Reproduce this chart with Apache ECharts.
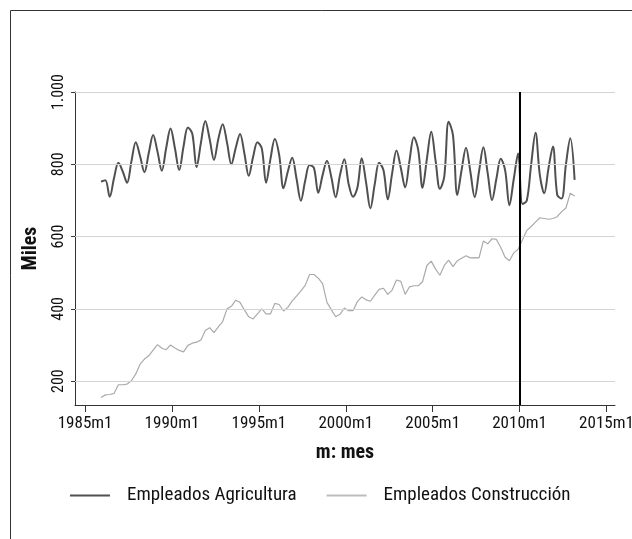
<!DOCTYPE html>
<html>
<head>
<meta charset="utf-8">
<script src="https://cdn.jsdelivr.net/npm/echarts@6/dist/echarts.min.js"></script>
<style>
html,body{margin:0;padding:0;background:#fff;}
#chart{width:632px;height:539px;}
</style>
</head>
<body>
<div id="chart"></div>
<script>
// Quarterly observations, first period 1985m12, step 3 months
const startYear = 1985;
const startMonth = 12;
const stepMonths = 3;

const agricultura = [
  752, 756, 710, 762, 804, 780, 749, 808, 861, 822,
  778, 832, 881, 835, 782, 845, 899, 845, 784, 850,
  902, 885, 792, 860, 920, 870, 812, 870, 911, 860,
  800, 845, 884, 830, 768, 820, 861, 844, 749, 815,
  870, 826, 734, 780, 818, 760, 699, 755, 798, 790,
  721, 770, 810, 765, 709, 770, 814, 745, 710, 735,
  817, 750, 678, 745, 804, 784, 703, 775, 838, 790,
  736, 810, 875, 840, 735, 815, 890, 810, 732, 766,
  918, 881, 715, 785, 846, 780, 709, 780, 847, 775,
  701, 760, 815, 784, 687, 760, 830, 690, 700, 800,
  887, 770, 720, 790, 849, 715, 705, 800, 872, 757
];

const construccion = [
  155, 162, 163, 166, 190, 190, 192, 201, 220, 247,
  261, 270, 286, 301, 291, 287, 300, 292, 285, 281,
  299, 305, 308, 314, 340, 348, 334, 350, 365, 400,
  407, 424, 418, 397, 378, 372, 386, 400, 386, 386,
  415, 412, 394, 404, 422, 435, 450, 465, 495, 495,
  485, 470, 418, 398, 378, 385, 402, 395, 395, 420,
  433, 425, 421, 438, 454, 457, 440, 452, 480, 476,
  440, 461, 464, 464, 475, 520, 532, 510, 493, 520,
  535, 517, 533, 540, 547, 541, 542, 541, 588, 580,
  594, 592, 570, 543, 533, 555, 565, 591, 617, 628,
  640, 652, 650, 648, 650, 655, 669, 679, 720, 712
];

const xTicks = [1985, 1990, 1995, 2000, 2005, 2010, 2015];
const yTicks = [200, 400, 600, 800, 1000];
const yTickLabels = ['200', '400', '600', '800', '1.000'];
const markerYear = 2010;

// period labels and decimal time
const periods = [];
const times = [];
for (let i = 0; i < agricultura.length; i++) {
  const mIdx = startYear * 12 + (startMonth - 1) + i * stepMonths;
  const y = Math.floor(mIdx / 12), m = mIdx % 12 + 1;
  periods.push(y + 'm' + m);
  times.push(y + (m - 1) / 12);
}

const FONT = "'Liberation Sans Narrow', 'Arial Narrow', 'Roboto Condensed', 'DejaVu Sans Condensed', Roboto, sans-serif";

const chart = echarts.init(document.getElementById('chart'), null, {renderer: 'canvas'});
chart.setOption({
  animation: false,
  backgroundColor: '#fff',
  textStyle: {fontFamily: FONT},
  graphic: [{
    type: 'rect', left: 8, top: 8, silent: true,
    shape: {width: 800, height: 800},
    style: {fill: 'none', stroke: '#333', lineWidth: 1}
  }],
  grid: {left: 75, right: 17, top: 92, bottom: 134, containLabel: false, outerBoundsMode: 'none'},
  legend: {
    left: 70, top: 486, padding: 0,
    itemWidth: 40, itemHeight: 2, itemGap: 30,
    textStyle: {fontFamily: FONT, fontSize: 19, color: '#111', padding: [0, 0, 0, 12]},
    data: [
      {name: 'Empleados Agricultura', icon: 'rect'},
      {name: 'Empleados Construcción', icon: 'rect'}
    ]
  },
  xAxis: {
    type: 'value', min: 1984.42, max: 2015.49,
    name: 'm: mes', nameLocation: 'middle', nameGap: 38,
    nameTextStyle: {fontFamily: FONT, fontSize: 20, fontWeight: 'bold', color: '#111'},
    axisLine: {show: true, lineStyle: {color: '#333', width: 1}},
    axisTick: {show: true, length: 7, lineStyle: {color: '#333'}, customValues: xTicks},
    axisLabel: {customValues: xTicks, formatter: v => v + 'm1', fontSize: 17, color: '#111', margin: 10, fontFamily: FONT},
    splitLine: {show: false}
  },
  yAxis: {
    type: 'value', min: 134, max: 1000,
    name: 'Miles', nameLocation: 'middle', nameGap: 34,
    nameTextStyle: {fontFamily: FONT, fontSize: 20, fontWeight: 'bold', color: '#111'},
    axisLine: {show: true, lineStyle: {color: '#333', width: 1}},
    axisTick: {show: true, length: 4, lineStyle: {color: '#333'}, customValues: yTicks},
    axisLabel: {customValues: yTicks, rotate: 90, fontSize: 16, color: '#111', margin: 8, fontFamily: FONT,
      formatter: v => yTickLabels[yTicks.indexOf(v)] || String(v)},
    splitLine: {show: false}
  },
  series: [
    {
      name: 'grid', type: 'line', data: [], z: 1, silent: true,
      markLine: {
        silent: true, symbol: 'none', label: {show: false},
        lineStyle: {color: '#d4d4d4', width: 1, type: 'solid'},
        data: yTicks.map(v => ({yAxis: v}))
      }
    },
    {
      name: 'Empleados Agricultura', type: 'line', z: 3,
      data: times.map((t, i) => [t, agricultura[i]]),
      symbol: 'none', smooth: 0.35,
      lineStyle: {color: '#505050', width: 2}, itemStyle: {color: '#505050'}
    },
    {
      name: 'Empleados Construcción', type: 'line', z: 2,
      data: times.map((t, i) => [t, construccion[i]]),
      symbol: 'none',
      lineStyle: {color: '#ababab', width: 1.2}, itemStyle: {color: '#bdbdbd'},
      markLine: {
        silent: true, symbol: 'none', label: {show: false}, z: 5,
        lineStyle: {color: '#000', width: 2, type: 'solid'},
        data: [{xAxis: markerYear}]
      }
    }
  ]
});
</script>
</body>
</html>
